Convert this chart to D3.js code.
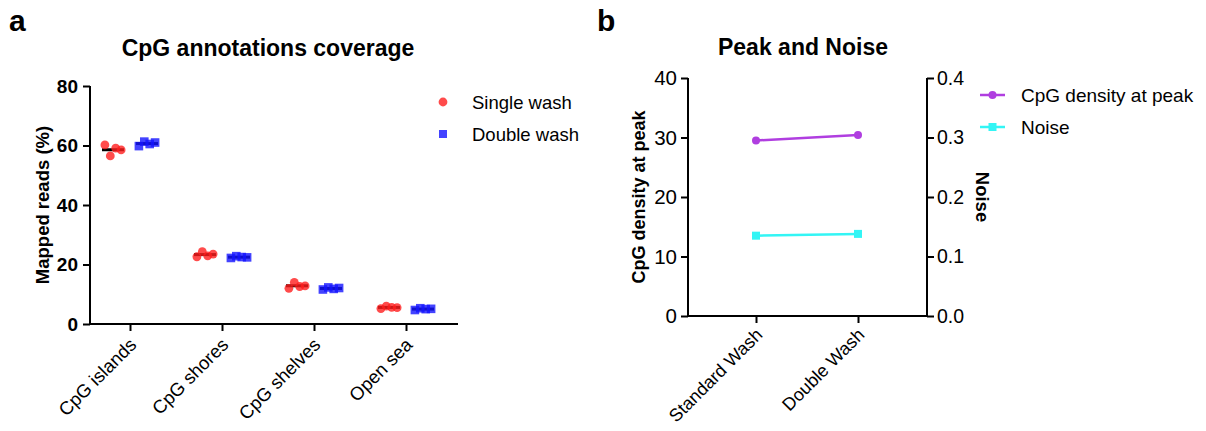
<!DOCTYPE html>
<html>
<head>
<meta charset="utf-8">
<script src="https://cdn.jsdelivr.net/npm/d3@7"></script>
<style>
html,body{margin:0;padding:0;background:#fff;}
svg{display:block;font-family:"Liberation Sans",Arial,sans-serif;}
</style>
</head>
<body>
<svg id="chart" width="1206" height="431"></svg>
<script>
// ---------- Data ----------
const categories = ["CpG islands", "CpG shores", "CpG shelves", "Open sea"];
const singleWash = [[60.2, 56.5, 59.1, 58.5], [22.6, 24.3, 22.9, 23.5], [12.0, 14.0, 12.6, 12.8], [5.2, 6.0, 5.6, 5.5]];
const doubleWash = [[59.8, 61.3, 60.5, 61.0], [22.2, 22.8, 22.5, 22.4], [11.6, 12.3, 11.8, 12.1], [4.7, 5.3, 5.0, 5.1]];
const yTicksA = [0, 20, 40, 60, 80];
const seriesA = ["Single wash", "Double wash"];

const washes = ["Standard Wash", "Double Wash"];
const cpgDensity = [29.5, 30.4];
const noise = [0.135, 0.138];
const yTicksB = [0, 10, 20, 30, 40];
const yTicksNoise = [0, 0.1, 0.2, 0.3, 0.4];
const seriesB = ["CpG density at peak", "Noise"];

// ---------- Setup ----------
const svg = d3.select("#chart");
const FONT = "Liberation Sans, Arial, sans-serif";
const red = "rgba(255,30,30,0.8)";
const blue = "rgba(20,20,255,0.8)";
const purple = "#b03ee0";
const cyan = "#33f5f5";

// Panel labels
svg.append("text").attr("x", 9).attr("y", 31).attr("font-size", 30).attr("font-weight", "bold").text("a");
svg.append("text").attr("x", 597).attr("y", 31).attr("font-size", 30).attr("font-weight", "bold").text("b");

function styleAxis(ax, size, bold) {
  ax.select(".domain").attr("stroke", "#000").attr("stroke-width", 2);
  ax.selectAll(".tick line").attr("stroke", "#000").attr("stroke-width", 2);
  ax.selectAll(".tick text").attr("font-size", size).attr("fill", "#000")
    .attr("font-family", FONT).attr("font-weight", bold ? "bold" : "normal");
}
function rotateLabels(ax, dx, dy) {
  ax.selectAll(".tick text").attr("text-anchor", "end").attr("x", 0).attr("y", 0).attr("dy", 0)
    .attr("transform", `translate(${dx},${dy}) rotate(-45)`);
}

// ---------- Panel a ----------
const gA = svg.append("g");
const yA = d3.scaleLinear().domain([0, 80]).range([324, 86]);
const xA = d3.scalePoint().domain(categories).range([130, 406]);
const xLeftA = 90, xRightA = 458;

gA.append("text").attr("x", 268).attr("y", 56).attr("text-anchor", "middle")
  .attr("font-size", 23).attr("font-weight", "bold").text("CpG annotations coverage");

const yAxisA = gA.append("g").attr("transform", `translate(${xLeftA},0)`)
  .call(d3.axisLeft(yA).tickValues(yTicksA).tickSize(7).tickPadding(5));
styleAxis(yAxisA, 19, true);
yAxisA.select(".domain").attr("d", `M0,${yA(80)}V${yA(0)}`);

const xAxisA = gA.append("g").attr("transform", `translate(0,${yA(0)})`)
  .call(d3.axisBottom(xA).tickSize(7));
styleAxis(xAxisA, 18.5, false);
xAxisA.select(".domain").attr("d", `M${xLeftA - 1},0H${xRightA}`);
rotateLabels(xAxisA, 7, 22);

gA.append("text").attr("transform", `translate(49,${(yA(0) + yA(80)) / 2}) rotate(-90)`)
  .attr("text-anchor", "middle").attr("font-size", 18.5).attr("font-weight", "bold").text("Mapped reads (%)");

const groupOffset = 17;
const spread = 5.4;
function drawGroup(values, dir, kind, color) {
  values.forEach((vals, ci) => {
    const cx = xA(categories[ci]) + dir * groupOffset;
    const m = d3.mean(vals);
    gA.append("line").attr("x1", cx - 11).attr("x2", cx + 11).attr("y1", yA(m)).attr("y2", yA(m))
      .attr("stroke", "#000").attr("stroke-width", 3);
    vals.forEach((v, i) => {
      const px = cx + (i - 1.5) * spread;
      if (kind === "circle") {
        gA.append("circle").attr("cx", px).attr("cy", yA(v)).attr("r", 4.4).attr("fill", color);
      } else {
        gA.append("rect").attr("x", px - 4.3).attr("y", yA(v) - 4.3).attr("width", 8.6).attr("height", 8.6).attr("fill", color);
      }
    });
  });
}
drawGroup(singleWash, -1, "circle", red);
drawGroup(doubleWash, 1, "square", blue);

// legend a
const legA = gA.append("g");
seriesA.forEach((s, i) => {
  const y = 102 + i * 32;
  if (i === 0) legA.append("circle").attr("cx", 443).attr("cy", y).attr("r", 4.4).attr("fill", red);
  else legA.append("rect").attr("x", 439).attr("y", y - 4).attr("width", 8).attr("height", 8).attr("fill", blue);
  legA.append("text").attr("x", 472).attr("y", y + 7).attr("font-size", 18.5).text(s);
});

// ---------- Panel b ----------
const gB = svg.append("g");
const yB = d3.scaleLinear().domain([0, 40]).range([316, 78]);
const yN = d3.scaleLinear().domain([0, 0.4]).range([316, 78]);
const xB = d3.scalePoint().domain(washes).range([756, 858]);
const xLeftB = 688, xRightB = 927;

gB.append("text").attr("x", 803).attr("y", 55).attr("text-anchor", "middle")
  .attr("font-size", 23).attr("font-weight", "bold").text("Peak and Noise");

const yAxisB = gB.append("g").attr("transform", `translate(${xLeftB},0)`)
  .call(d3.axisLeft(yB).tickValues(yTicksB).tickSize(7).tickPadding(4));
styleAxis(yAxisB, 20.5, false);
yAxisB.select(".domain").attr("d", `M0,${yB(40)}V${yB(0)}`);

const yAxisN = gB.append("g").attr("transform", `translate(${xRightB},0)`)
  .call(d3.axisRight(yN).tickValues(yTicksNoise).tickFormat(d3.format(".1f")).tickSize(7).tickPadding(3));
styleAxis(yAxisN, 19.5, false);
yAxisN.select(".domain").attr("d", `M0,${yN(0.4)}V${yN(0)}`);

const xAxisB = gB.append("g").attr("transform", `translate(0,${yB(0)})`)
  .call(d3.axisBottom(xB).tickSize(7));
styleAxis(xAxisB, 18, false);
xAxisB.select(".domain").attr("d", `M${xLeftB - 1},0H${xRightB + 1}`);
rotateLabels(xAxisB, 7, 20);

gB.append("text").attr("transform", `translate(645,${(yB(0) + yB(40)) / 2}) rotate(-90)`)
  .attr("text-anchor", "middle").attr("font-size", 18).attr("font-weight", "bold").text("CpG density at peak");
gB.append("text").attr("transform", `translate(976,${(yB(0) + yB(40)) / 2}) rotate(90)`)
  .attr("text-anchor", "middle").attr("font-size", 18.5).attr("font-weight", "bold").text("Noise");

// lines
const lineD = d3.line().x((d, i) => xB(washes[i])).y(d => yB(d));
const lineN = d3.line().x((d, i) => xB(washes[i])).y(d => yN(d));
gB.append("path").attr("d", lineD(cpgDensity)).attr("fill", "none").attr("stroke", purple).attr("stroke-width", 2.5);
gB.selectAll(".pd").data(cpgDensity).enter().append("circle")
  .attr("cx", (d, i) => xB(washes[i])).attr("cy", d => yB(d)).attr("r", 4).attr("fill", purple);
gB.append("path").attr("d", lineN(noise)).attr("fill", "none").attr("stroke", cyan).attr("stroke-width", 2.5);
gB.selectAll(".pn").data(noise).enter().append("rect")
  .attr("x", (d, i) => xB(washes[i]) - 4).attr("y", d => yN(d) - 4).attr("width", 8).attr("height", 8).attr("fill", cyan);

// legend b
const legB = gB.append("g");
seriesB.forEach((s, i) => {
  const y = 95 + i * 32;
  const c = i === 0 ? purple : cyan;
  legB.append("line").attr("x1", 980).attr("x2", 1005).attr("y1", y).attr("y2", y).attr("stroke", c).attr("stroke-width", 2.5);
  if (i === 0) legB.append("circle").attr("cx", 992.5).attr("cy", y).attr("r", 4).attr("fill", c);
  else legB.append("rect").attr("x", 988.5).attr("y", y - 4).attr("width", 8).attr("height", 8).attr("fill", c);
  legB.append("text").attr("x", 1021).attr("y", y + 7).attr("font-size", 19).text(s);
});
</script>
</body>
</html>
